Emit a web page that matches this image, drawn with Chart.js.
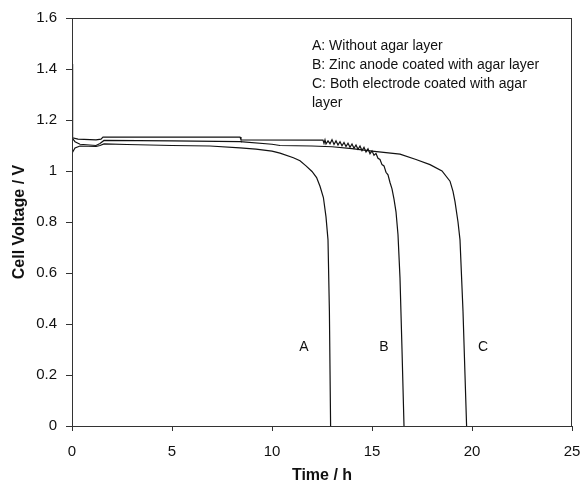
<!DOCTYPE html>
<html>
<head>
<meta charset="utf-8">
<script src="https://cdn.jsdelivr.net/npm/chart.js@4.4.0/dist/chart.umd.min.js"></script>
<style>
    html, body { margin: 0; padding: 0; background: #fff; }
    #wrap { width: 580px; height: 486px; }
</style>
</head>
<body>
<div id="wrap"><canvas id="myChart" width="580" height="486"></canvas></div>
<script>
// A: sin capa de agar
const tA = [0, 0.15, 0.4, 1.2, 1.4, 1.6, 2.75, 5, 6.9, 8.4, 9.2, 10.0, 10.4, 11.07, 11.4, 11.7, 12.0, 12.23, 12.4, 12.57, 12.7, 12.8, 12.87, 12.93];
const vA = [1.07, 1.09, 1.098, 1.096, 1.10, 1.106, 1.104, 1.10, 1.098, 1.091, 1.086, 1.078, 1.07, 1.052, 1.04, 1.02, 0.998, 0.974, 0.94, 0.896, 0.82, 0.73, 0.45, 0];

// B: anodo de zinc con agar
const tB = [0, 0.03, 0.3, 1.2, 1.45, 1.55, 8.4, 8.45, 12.55, 12.6, 12.65, 12.7, 12.8, 12.9, 13.0, 13.1, 13.2, 13.3, 13.4, 13.5, 13.6, 13.7, 13.8, 13.9, 14.0, 14.1, 14.2, 14.3, 14.4, 14.5, 14.6, 14.7, 14.8, 14.9, 15.0, 15.1, 15.2, 15.3, 15.4, 15.5, 15.6, 15.7, 15.8, 15.9, 16.0, 16.1, 16.2, 16.3, 16.4, 16.5, 16.6];
const vB = [1.42, 1.13, 1.125, 1.122, 1.125, 1.133, 1.133, 1.122, 1.121, 1.108, 1.122, 1.106, 1.118, 1.107, 1.123, 1.104, 1.118, 1.102, 1.115, 1.099, 1.112, 1.096, 1.109, 1.093, 1.106, 1.089, 1.102, 1.085, 1.098, 1.080, 1.093, 1.075, 1.087, 1.068, 1.079, 1.062, 1.069, 1.050, 1.045, 1.025, 1.02, 0.995, 0.985, 0.955, 0.93, 0.89, 0.84, 0.75, 0.58, 0.30, 0];

// C: ambos electrodos con agar
const tC = [0, 0.15, 0.4, 1.2, 1.4, 1.6, 5, 8.4, 10, 10.4, 12, 13, 14, 15, 16.4, 17.2, 17.9, 18.5, 18.9, 19.05, 19.15, 19.3, 19.4, 19.55, 19.73];
const vC = [1.13, 1.115, 1.105, 1.10, 1.108, 1.12, 1.118, 1.115, 1.105, 1.10, 1.098, 1.095, 1.088, 1.078, 1.066, 1.045, 1.025, 1.0, 0.96, 0.92, 0.88, 0.80, 0.73, 0.45, 0];

const xTicks = [0, 5, 10, 15, 20, 25];
const yTicks = [0, 0.2, 0.4, 0.6, 0.8, 1, 1.2, 1.4, 1.6];

const leyenda = [
    'A: Without agar layer',
    'B: Zinc anode coated with agar layer',
    'C: Both electrode coated with agar',
    'layer'
];
const leyendaPos = [12.0, 1.49];

const curvaLabels = ['A', 'B', 'C'];
const curvaLabelX = [11.6, 15.6, 20.55];
const curvaLabelY = 0.31;

function puntos(t, v) {
    return t.map((x, i) => ({ x: x, y: v[i] }));
}

const fuente = '"Liberation Sans", Arial, sans-serif';

const serie = (t, v) => ({
    data: puntos(t, v),
    borderColor: '#111',
    borderWidth: 1.2,
    pointRadius: 0,
    tension: 0,
    fill: false
});

const textos = {
    id: 'textos',
    afterDraw(chart) {
        const ctx = chart.ctx;
        const sx = chart.scales.x, sy = chart.scales.y;
        const a = chart.chartArea;
        ctx.save();
        // marco completo
        ctx.strokeStyle = '#333';
        ctx.lineWidth = 1;
        ctx.strokeRect(a.left + 0.5, a.top + 0.5, a.right - a.left - 1, a.bottom - a.top);

        ctx.fillStyle = '#111';
        ctx.font = '14px ' + fuente;
        ctx.textBaseline = 'middle';
        ctx.textAlign = 'left';
        const lx = sx.getPixelForValue(leyendaPos[0]);
        const ly = sy.getPixelForValue(leyendaPos[1]);
        leyenda.forEach((l, i) => ctx.fillText(l, lx, ly + i * 19));

        ctx.textAlign = 'center';
        curvaLabels.forEach((l, i) => {
            ctx.fillText(l, sx.getPixelForValue(curvaLabelX[i]), sy.getPixelForValue(curvaLabelY));
        });
        ctx.restore();
    }
};

const config = {
    type: 'line',
    data: {
        datasets: [serie(tA, vA), serie(tB, vB), serie(tC, vC)]
    },
    options: {
        responsive: false,
        animation: false,
        layout: { padding: { top: 16, right: 0, left: 0, bottom: 0 } },
        plugins: {
            legend: { display: false },
            tooltip: { enabled: false }
        },
        scales: {
            x: {
                type: 'linear',
                min: 0,
                max: 25,
                afterBuildTicks: s => { s.ticks = xTicks.map(v => ({ value: v })); },
                afterFit: s => { s.height = 60; s.paddingRight = 8; },
                grid: { drawOnChartArea: false, tickLength: 5, color: '#333' },
                border: { color: '#333', width: 1 },
                ticks: {
                    padding: 12,
                    color: '#111',
                    font: { family: fuente, size: 15 },
                    maxRotation: 0,
                    callback: v => String(v)
                },
                title: {
                    display: true,
                    text: 'Time / h',
                    color: '#111',
                    font: { family: fuente, size: 16, weight: 'bold' },
                    padding: { top: 0, bottom: 1 }
                }
            },
            y: {
                min: 0,
                max: 1.6,
                afterBuildTicks: s => { s.ticks = yTicks.map(v => ({ value: v })); },
                afterFit: s => { s.width = 72; },
                grid: { drawOnChartArea: false, tickLength: 6, color: '#333' },
                border: { color: '#333', width: 1 },
                ticks: {
                    padding: 9,
                    color: '#111',
                    font: { family: fuente, size: 15 },
                    callback: v => String(Number(v.toFixed(1)))
                },
                title: {
                    display: true,
                    text: 'Cell Voltage / V',
                    color: '#111',
                    font: { family: fuente, size: 16, weight: 'bold' },
                    padding: { top: 10, bottom: 0 }
                }
            }
        }
    },
    plugins: [textos]
};

var myChart = new Chart(document.getElementById('myChart'), config);
</script>
</body>
</html>
